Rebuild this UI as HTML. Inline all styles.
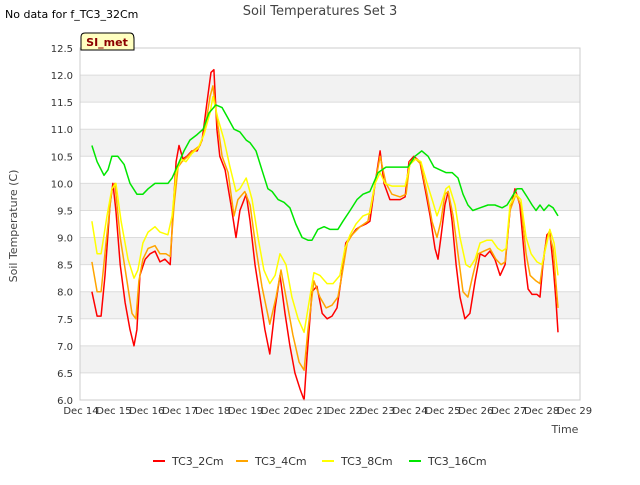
<!DOCTYPE html>
<html><head><meta charset="utf-8"><style>
body{margin:0;background:#fff;font-family:"Liberation Sans",sans-serif}
svg text{font-family:"DejaVu Sans","Liberation Sans",sans-serif}
</style></head><body>
<svg id="c" width="640" height="480" xmlns="http://www.w3.org/2000/svg">
<text x="5" y="18" font-size="11" fill="#000">No data for f_TC3_32Cm</text>
<text x="320" y="15" font-size="13" fill="#444" text-anchor="middle">Soil Temperatures Set 3</text>
<g id="bands"></g>
<g id="yax"></g>
<g id="xax"></g>
<g id="series"></g>
<rect x="80" y="48" width="500" height="352" fill="none" stroke="#ccc"/>
<g>
<path d="M81,50 L81,37 Q81,33 85,33 L130,33 Q134,33 134,39 L134,50 Z" fill="#ffffc0" stroke="#000"/>
<text x="107" y="46" font-size="11" font-weight="bold" fill="#8b0000" text-anchor="middle">SI_met</text>
</g>
<text x="17" y="226" font-size="11" fill="#444" text-anchor="middle" transform="rotate(-90 17 226)">Soil Temperature (C)</text>
<text x="565" y="433" font-size="11" fill="#444" text-anchor="middle">Time</text>
<g id="legend"></g>
</svg>
<script>
const xTickLabels=["Dec 14","Dec 15","Dec 16","Dec 17","Dec 18","Dec 19","Dec 20","Dec 21","Dec 22","Dec 23","Dec 24","Dec 25","Dec 26","Dec 27","Dec 28","Dec 29"];
const yTicks=[6.0,6.5,7.0,7.5,8.0,8.5,9.0,9.5,10.0,10.5,11.0,11.5,12.0,12.5];
const seriesNames=["TC3_2Cm","TC3_4Cm","TC3_8Cm","TC3_16Cm"];
const t2=[.33,.49,.61,.73,.88,.97,1.06,1.19,1.34,1.49,1.61,1.70,1.79,1.95,2.10,2.25,2.40,2.55,2.71,2.80,2.89,2.98,3.10,3.22,3.37,3.53,3.68,3.83,3.95,4.04,4.13,4.22,4.38,4.56,4.71,4.83,5.02,5.14,5.29,5.44,5.59,5.74,5.90,6.05,6.20,6.35,6.50,6.66,6.78,6.87,7.02,7.17,7.33,7.48,7.63,7.78,7.90,8.05,8.18,8.36,8.48,8.66,8.78,8.94,9.09,9.21,9.39,9.54,9.70,9.85,9.97,10.12,10.30,10.46,10.61,10.76,10.85,10.94,11.06,11.16,11.28,11.40,11.52,11.67,11.82,11.98,12.13,12.28,12.43,12.58,12.74,12.89,13.04,13.19,13.34,13.50,13.59,13.71,13.86,13.95,14.04,14.16,14.25,14.35,14.44,14.50];
const v2=[8.0,7.55,7.55,8.3,9.6,10.0,9.5,8.5,7.8,7.3,7.0,7.3,8.3,8.6,8.7,8.75,8.55,8.6,8.5,9.5,10.4,10.7,10.45,10.5,10.6,10.6,10.8,11.5,12.05,12.1,11.0,10.5,10.25,9.6,9.0,9.5,9.8,9.3,8.5,7.9,7.3,6.85,7.7,8.3,7.6,7.0,6.5,6.2,6.0,6.8,8.0,8.1,7.6,7.5,7.55,7.7,8.2,8.9,9.0,9.15,9.2,9.25,9.3,10.0,10.6,10.0,9.7,9.7,9.7,9.75,10.4,10.5,10.4,9.9,9.4,8.8,8.6,9.0,9.6,9.85,9.3,8.5,7.9,7.5,7.6,8.2,8.7,8.65,8.75,8.6,8.3,8.5,9.5,9.9,9.6,8.5,8.05,7.95,7.95,7.9,8.5,9.05,9.1,8.5,7.8,7.25];
const t4=[.33,.49,.61,.76,.94,1.03,1.19,1.37,1.55,1.67,1.76,1.88,2.04,2.25,2.40,2.58,2.71,2.83,2.95,3.07,3.25,3.40,3.62,3.77,3.92,4.01,4.13,4.29,4.47,4.65,4.77,4.98,5.14,5.32,5.50,5.74,5.93,6.08,6.26,6.44,6.63,6.78,6.90,7.08,7.26,7.45,7.63,7.81,7.93,8.09,8.24,8.48,8.72,8.91,9.09,9.27,9.45,9.70,9.88,10.00,10.18,10.33,10.52,10.67,10.82,10.94,11.06,11.16,11.31,11.46,11.61,11.76,11.91,12.07,12.25,12.43,12.61,12.77,12.89,13.04,13.22,13.37,13.53,13.65,13.83,13.95,14.10,14.22,14.35,14.50];
const v4=[8.55,8.0,8.0,8.9,9.9,10.0,9.0,8.3,7.6,7.5,8.2,8.6,8.8,8.85,8.7,8.7,8.65,9.6,10.3,10.4,10.5,10.6,10.7,11.0,11.6,11.8,11.2,10.5,10.2,9.4,9.7,9.85,9.6,8.8,8.1,7.4,7.9,8.4,7.8,7.2,6.7,6.55,7.3,8.2,7.9,7.7,7.75,7.9,8.3,8.9,9.05,9.2,9.3,9.9,10.5,10.0,9.8,9.75,9.8,10.4,10.45,10.35,9.8,9.3,9.0,9.3,9.8,9.85,9.4,8.7,8.0,7.9,8.3,8.7,8.75,8.8,8.6,8.5,8.55,9.5,9.8,9.6,8.7,8.3,8.2,8.15,8.8,9.1,8.8,7.7];
const t8=[.33,.49,.61,.79,.94,1.06,1.22,1.43,1.61,1.73,1.88,2.04,2.25,2.40,2.64,2.77,2.89,3.04,3.19,3.37,3.56,3.74,3.92,4.01,4.16,4.35,4.53,4.71,4.83,5.02,5.20,5.38,5.56,5.74,5.90,6.05,6.23,6.41,6.60,6.78,6.93,7.08,7.26,7.48,7.66,7.87,8.02,8.18,8.36,8.57,8.78,8.94,9.09,9.24,9.45,9.70,9.85,10.00,10.18,10.33,10.52,10.70,10.82,10.94,11.09,11.19,11.37,11.52,11.70,11.82,11.98,12.13,12.34,12.49,12.67,12.80,12.92,13.04,13.22,13.37,13.53,13.68,13.86,14.01,14.16,14.25,14.38,14.50];
const v8=[9.3,8.7,8.7,9.4,9.9,10.0,9.3,8.6,8.25,8.4,8.9,9.1,9.2,9.1,9.05,9.4,10.2,10.45,10.4,10.55,10.65,10.9,11.3,11.6,11.2,10.8,10.3,9.85,9.9,10.1,9.7,9.0,8.4,8.15,8.3,8.7,8.5,7.9,7.5,7.25,7.8,8.35,8.3,8.15,8.15,8.3,8.8,9.05,9.25,9.4,9.45,10.0,10.2,10.0,9.95,9.95,9.95,10.35,10.45,10.4,10.0,9.65,9.4,9.6,9.9,9.95,9.6,9.0,8.5,8.45,8.6,8.9,8.95,8.95,8.8,8.75,8.8,9.6,9.8,9.7,9.0,8.7,8.55,8.5,8.9,9.15,8.9,8.3];
const t16=[.33,.49,.70,.82,.94,1.12,1.31,1.49,1.70,1.88,2.04,2.25,2.46,2.64,2.77,2.95,3.13,3.31,3.53,3.71,3.89,4.10,4.29,4.47,4.65,4.83,5.02,5.14,5.32,5.50,5.68,5.81,5.99,6.17,6.35,6.53,6.72,6.90,7.02,7.20,7.39,7.57,7.81,7.96,8.18,8.39,8.57,8.78,9.03,9.27,9.51,9.76,9.94,10.15,10.36,10.55,10.73,10.91,11.09,11.28,11.46,11.61,11.76,11.91,12.13,12.37,12.58,12.80,12.95,13.10,13.25,13.40,13.56,13.71,13.83,13.95,14.07,14.22,14.35,14.50];
const v16=[10.7,10.4,10.15,10.25,10.5,10.5,10.35,10.0,9.8,9.8,9.9,10.0,10.0,10.0,10.1,10.35,10.6,10.8,10.9,11.0,11.3,11.45,11.4,11.2,11.0,10.95,10.8,10.75,10.6,10.25,9.9,9.85,9.7,9.65,9.55,9.25,9.0,8.95,8.95,9.15,9.2,9.15,9.15,9.3,9.5,9.7,9.8,9.85,10.2,10.3,10.3,10.3,10.3,10.5,10.6,10.5,10.3,10.25,10.2,10.2,10.1,9.8,9.6,9.5,9.55,9.6,9.6,9.55,9.6,9.75,9.9,9.9,9.75,9.6,9.5,9.6,9.5,9.6,9.55,9.4];
const colors=["#ff0000","#ffa500","#ffff00","#00e600"];
const NS="http://www.w3.org/2000/svg";
const X0=80,X1=580,Y0=48,Y1=400;
const xs=d=>81+d*32.9;
const ys=v=>Y1-(v-6)/(6.5)*(Y1-Y0);
function mk(tag,attrs,parent){const e=document.createElementNS(NS,tag);for(const k in attrs)e.setAttribute(k,attrs[k]);parent.appendChild(e);return e;}
const bands=document.getElementById('bands');
for(let i=0;i<yTicks.length-1;i++){
  const r=mk('rect',{x:X0,y:ys(yTicks[i+1]),width:X1-X0,height:ys(yTicks[i])-ys(yTicks[i+1]),fill:(i%2===1)?'#f2f2f2':'#ffffff'},bands);
  
  
}
const yax=document.getElementById('yax');
yTicks.forEach(v=>{
  const l=mk('line',{x1:X0,x2:X1,y1:ys(v),y2:ys(v),stroke:'#dcdcdc'},yax);
  
  
  const t=mk('text',{x:73,y:ys(v)+4,'font-size':10,fill:'#333','text-anchor':'end'},yax);
  t.textContent=v.toFixed(1);
  
  
});
const xax=document.getElementById('xax');
xTickLabels.forEach((s,i)=>{
  const t=mk('text',{x:xs(i),y:414,'font-size':10,fill:'#333','text-anchor':'middle'},xax);
  t.textContent=s;
  
  
});
const sg=document.getElementById('series');
[[t2,v2],[t4,v4],[t8,v8],[t16,v16]].forEach((s,k)=>{
  const pts=s[0].map((d,i)=>xs(d).toFixed(1)+','+ys(s[1][i]).toFixed(1)).join(' ');
  const p=mk('polyline',{points:pts,fill:'none',stroke:colors[k],'stroke-width':1.5,'stroke-linejoin':'round'},sg);
  
  
});
const lg=document.getElementById('legend');
const lx=[153,236,322,409];
seriesNames.forEach((n,k)=>{
  const g=mk('g',{},lg);
  
  
  mk('line',{x1:lx[k],x2:lx[k]+12,y1:461,y2:461,stroke:colors[k],'stroke-width':2},g);
  const t=mk('text',{x:lx[k]+19,y:465,'font-size':11,fill:'#333'},g);
  t.textContent=n;
});
</script>
</body></html>
